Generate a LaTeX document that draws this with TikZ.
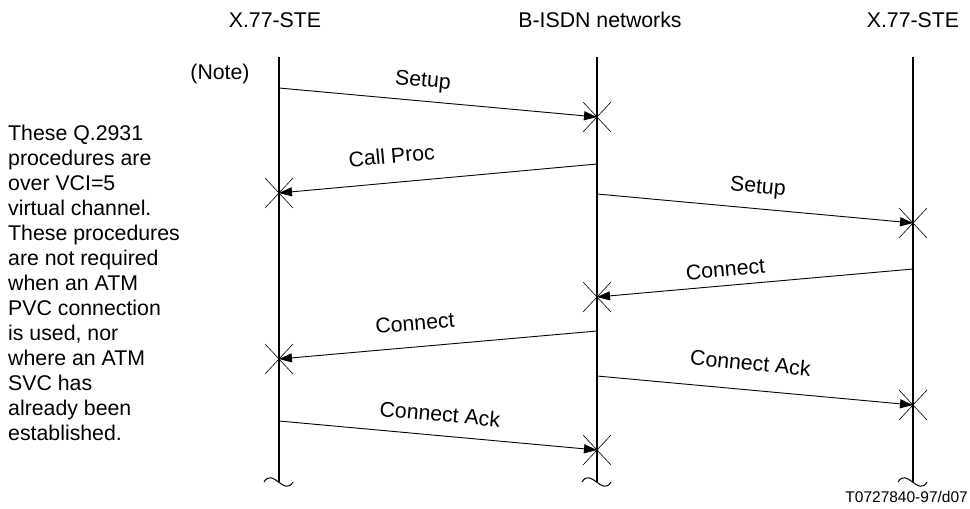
\documentclass[tikz,border=0pt]{standalone}
\usepackage{fontspec}
\setmainfont{Liberation Sans}
\usetikzlibrary{arrows.meta,calc}
\newcommand\lifewave[1]{\draw[wave] ($(#1)+(-15,0)$) .. controls ($(#1)+(-6,-15)$) and ($(#1)+(5,15)$) .. ($(#1)+(14,0)$);}
\newcommand\tickcross[1]{\draw[cross] ($(#1)+(-14,-15)$) -- ($(#1)+(14,15)$); \draw[cross] ($(#1)+(-14,15)$) -- ($(#1)+(14,-15)$);}
\begin{document}
\begin{tikzpicture}[x=1pt,y=-1pt,
  life/.style={line width=1.8pt},
  msg/.style={line width=0.9pt,-{Triangle[length=13pt,width=9pt]}},
  cross/.style={line width=0.6pt},
  wave/.style={line width=1pt},
  lab/.style={font=\fontsize{21.3}{25}\selectfont, inner sep=0pt, text height=15pt, text depth=4.5pt, sloped},
  txt/.style={font=\fontsize{21.3}{25}\selectfont, inner sep=0pt}]
\useasboundingbox (0,0) rectangle (970,509);
% lifelines
\foreach \n/\x in {A/279,B/597,C/913} {
  \coordinate (top\n) at (\x,57);
  \coordinate (bot\n) at (\x,482);
}
\draw[life] (topA) -- (botA);
\draw[life] (topB) -- (botB);
\draw[life] (topC) -- (botC);
\lifewave{botA}
\lifewave{botB}
\lifewave{botC}
% headers
\node[txt, anchor=base] (h1) at (275,27.5) {X.77-STE};
\node[txt, anchor=base] (h2) at (600,27.5) {B-ISDN networks};
\node[txt, anchor=base] (h3) at (913,27.5) {X.77-STE};
\node[txt, anchor=base] (note) at (220,79) {(Note)};
\node[txt, anchor=north west, align=left] (expl) at (8,125) {These Q.2931\\procedures are\\over VCI=5\\virtual channel.\\These procedures\\are not required\\when an ATM\\PVC connection\\is used, nor\\where an ATM\\SVC has\\already been\\established.};
\node[font=\fontsize{15.5}{18}\selectfont, inner sep=0pt, anchor=base east] (fig) at (968,502.5) {T0727840-97/d07};
% message end points
\coordinate (m1s) at (279,88);  \coordinate (m1e) at (597,117);
\coordinate (m2s) at (597,164); \coordinate (m2e) at (279,193);
\coordinate (m3s) at (597,194); \coordinate (m3e) at (913,223);
\coordinate (m4s) at (913,269); \coordinate (m4e) at (597,297);
\coordinate (m5s) at (597,331); \coordinate (m5e) at (279,359);
\coordinate (m6s) at (597,376); \coordinate (m6e) at (913,405);
\coordinate (m7s) at (279,421); \coordinate (m7e) at (597,450);
% messages
\draw[msg] (m1s) -- node[lab, pos=0.447, above=9.5pt] {Setup} (m1e);
\draw[msg] (m2s) -- node[lab, pos=0.638, above=14.5pt] {Call Proc} (m2e);
\draw[msg] (m3s) -- node[lab, pos=0.503, above=10.5pt] {Setup} (m3e);
\draw[msg] (m4s) -- node[lab, pos=0.589, above=4pt] {Connect} (m4e);
\draw[msg] (m5s) -- node[lab, pos=0.566, above=11.5pt] {Connect} (m5e);
\draw[msg] (m6s) -- node[lab, pos=0.478, above=14.5pt] {Connect Ack} (m6e);
\draw[msg] (m7s) -- node[lab, pos=0.5, above=9pt] {Connect Ack} (m7e);
% crosses
\tickcross{m1e}
\tickcross{m2e}
\tickcross{m3e}
\tickcross{m4e}
\tickcross{m5e}
\tickcross{m6e}
\tickcross{m7e}
\end{tikzpicture}
\end{document}
